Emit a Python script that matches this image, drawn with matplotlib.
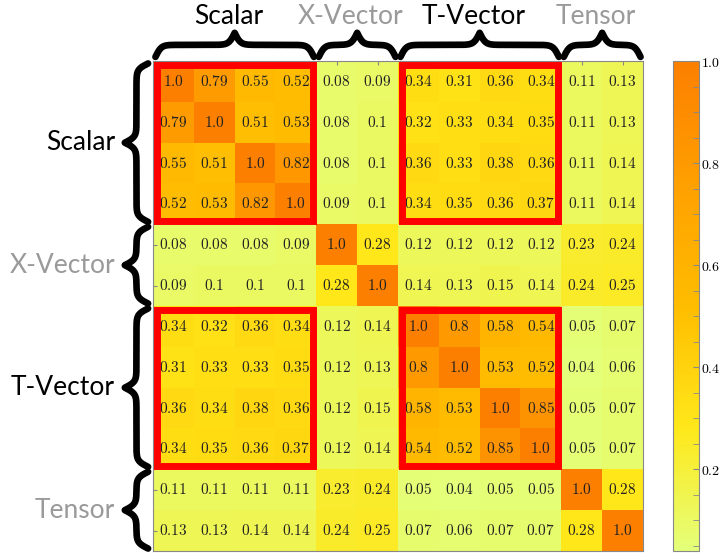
import numpy as np
import matplotlib
matplotlib.use('Agg')
import matplotlib.pyplot as plt
from matplotlib.patches import Rectangle
from matplotlib.ticker import MultipleLocator, FuncFormatter

plt.rcParams['mathtext.fontset'] = 'cm'

group_names = ['Scalar', 'X-Vector', 'T-Vector', 'Tensor']
group_sizes = [4, 2, 4, 2]
group_colors = ['black', '#9a9a9a', 'black', '#9a9a9a']
boxed_blocks = [(0, 0), (0, 2), (2, 0), (2, 2)]

corr = np.array([
    [1.0, 0.79, 0.55, 0.52, 0.08, 0.09, 0.34, 0.31, 0.36, 0.34, 0.11, 0.13],
    [0.79, 1.0, 0.51, 0.53, 0.08, 0.1, 0.32, 0.33, 0.34, 0.35, 0.11, 0.13],
    [0.55, 0.51, 1.0, 0.82, 0.08, 0.1, 0.36, 0.33, 0.38, 0.36, 0.11, 0.14],
    [0.52, 0.53, 0.82, 1.0, 0.09, 0.1, 0.34, 0.35, 0.36, 0.37, 0.11, 0.14],
    [0.08, 0.08, 0.08, 0.09, 1.0, 0.28, 0.12, 0.12, 0.12, 0.12, 0.23, 0.24],
    [0.09, 0.1, 0.1, 0.1, 0.28, 1.0, 0.14, 0.13, 0.15, 0.14, 0.24, 0.25],
    [0.34, 0.32, 0.36, 0.34, 0.12, 0.14, 1.0, 0.8, 0.58, 0.54, 0.05, 0.07],
    [0.31, 0.33, 0.33, 0.35, 0.12, 0.13, 0.8, 1.0, 0.53, 0.52, 0.04, 0.06],
    [0.36, 0.34, 0.38, 0.36, 0.12, 0.15, 0.58, 0.53, 1.0, 0.85, 0.05, 0.07],
    [0.34, 0.35, 0.36, 0.37, 0.12, 0.14, 0.54, 0.52, 0.85, 1.0, 0.05, 0.07],
    [0.11, 0.11, 0.11, 0.11, 0.23, 0.24, 0.05, 0.04, 0.05, 0.05, 1.0, 0.28],
    [0.13, 0.13, 0.14, 0.14, 0.24, 0.25, 0.07, 0.06, 0.07, 0.07, 0.28, 1.0],
])


def brace_shape(start, end, beta=14, n=401):
    # curly brace: 0 at both ends, 1 at the cusp in the middle
    s = np.linspace(start, end, n)
    half = s[:n // 2 + 1]
    h = (1 / (1 + np.exp(-beta * (half - half[0])))
         + 1 / (1 + np.exp(-beta * (half - half[-1]))))
    h = np.concatenate([h, h[-2::-1]]) - 0.5
    return s, h


fig = plt.figure(figsize=(7.23, 5.53), dpi=100)
ax = fig.add_axes([153 / 723, 2 / 553, 490 / 723, 490 / 553])
im = ax.imshow(corr, cmap='Wistia', vmin=corr.min(), vmax=1.0, aspect='auto')

n = corr.shape[0]
for i in range(n):
    for j in range(n):
        ax.text(j, i, '$%s$' % repr(float(corr[i, j])), ha='center', va='center',
                fontsize=11, color='#222222')

ax.set_xticks(range(n))
ax.set_yticks(range(n))
ax.tick_params(direction='in', length=3, color='#888888', top=True, left=True,
               bottom=False, right=False, labeltop=False, labelleft=False,
               labelbottom=False)
for sp in ax.spines.values():
    sp.set_color('#888888')
    sp.set_linewidth(0.8)

starts = np.concatenate([[0], np.cumsum(group_sizes)[:-1]])
inset = 0.086
for gi, gj in boxed_blocks:
    x0 = starts[gj] - 0.5 + inset
    y0 = starts[gi] - 0.5 + inset
    ax.add_patch(Rectangle((x0, y0), group_sizes[gj] - 2 * inset,
                           group_sizes[gi] - 2 * inset, fill=False,
                           ec='red', lw=5, zorder=3))

# braces and group labels
for name, st, size, col in zip(group_names, starts, group_sizes, group_colors):
    s, h = brace_shape(st - 0.5 + 0.06, st + size - 0.5 - 0.06)
    # top
    ax.plot(s, -0.6 - 0.59 * h, color='black', lw=4.8, solid_capstyle='round',
            clip_on=False)
    ax.text(st + size / 2 - 0.5 - 0.15, -1.6, name, ha='center', va='center',
            fontsize=19, family='Lato', color=col)
    # left
    ax.plot(-0.62 - 0.57 * h, s, color='black', lw=4.8, solid_capstyle='round',
            clip_on=False)
    ax.text(-1.43, st + size / 2 - 0.5, name, ha='right', va='center',
            fontsize=19, family='Lato', color=col)

ax.set_xlim(-0.5, n - 0.5)
ax.set_ylim(n - 0.5, -0.5)

cax = fig.add_axes([673 / 723, 2 / 553, 26 / 723, 490 / 553])
cb = fig.colorbar(im, cax=cax)
cb.set_ticks([0.2, 0.4, 0.6, 0.8, 1.0])
cb.ax.yaxis.set_minor_locator(MultipleLocator(0.05))
cb.ax.yaxis.set_major_formatter(FuncFormatter(lambda v, p: '$%.1f$' % v))
cb.ax.tick_params(which='both', direction='in', color='#888888', labelsize=10,
                  length=4, pad=1.5)
cb.outline.set_edgecolor('#888888')
cb.outline.set_linewidth(0.8)

fig.savefig('out.png', dpi=100)
